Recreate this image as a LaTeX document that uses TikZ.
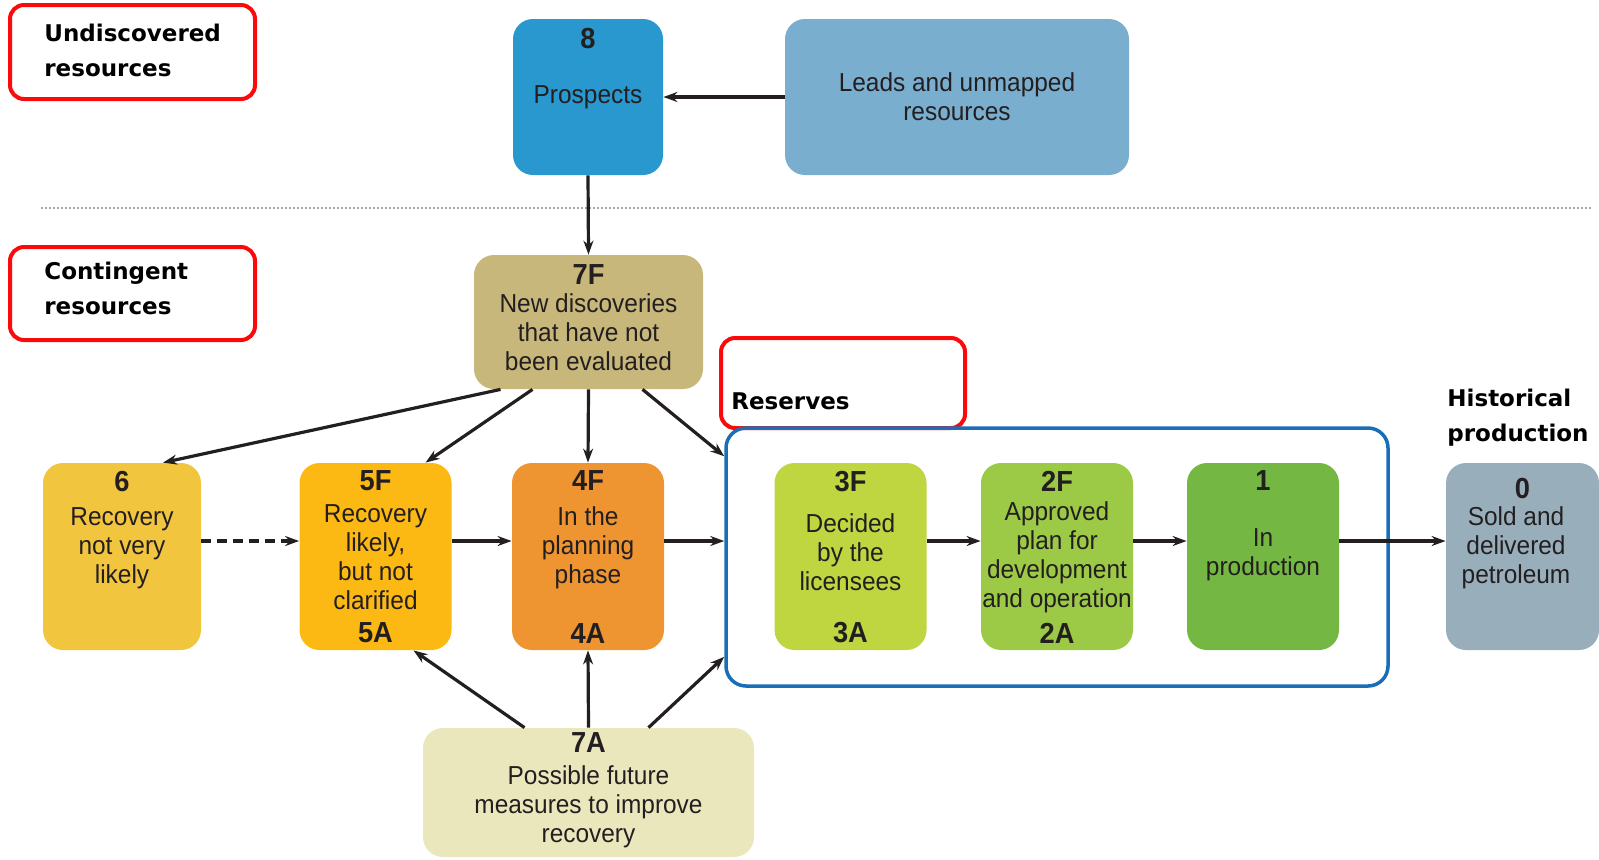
\documentclass[tikz,border=0pt]{standalone}
\usepackage{fontspec}
\setmainfont{Liberation Sans}
\newfontfamily\boxfont[FakeStretch=0.94]{Liberation Sans}
\newfontfamily\headfont{DejaVu Sans}
\usetikzlibrary{positioning}
\usetikzlibrary{arrows.meta}

\definecolor{prospblue}{RGB}{41,152,206}
\definecolor{leadblue}{RGB}{122,174,206}
\definecolor{newdisc}{RGB}{200,183,122}
\definecolor{futmeas}{RGB}{235,231,189}
\definecolor{stagesix}{RGB}{242,197,63}
\definecolor{stagefive}{RGB}{253,185,19}
\definecolor{stagefour}{RGB}{238,148,48}
\definecolor{stagethree}{RGB}{191,214,65}
\definecolor{stagetwo}{RGB}{156,202,70}
\definecolor{stageone}{RGB}{116,184,67}
\definecolor{stagezero}{RGB}{152,175,187}
\definecolor{markred}{RGB}{250,10,10}
\definecolor{resblue}{RGB}{26,109,183}
\definecolor{arrowdark}{RGB}{35,31,32}

\begin{document}
\begin{tikzpicture}[x=0.5pt, y=-0.5pt,
    stage/.style={rounded corners=10pt, minimum width=76pt, minimum height=93.5pt, inner sep=0pt,
      font=\boxfont\fontsize{13}{14.5}\selectfont, align=center, text=arrowdark},
    num/.style={font=\boxfont\bfseries\fontsize{14.5}{14.5}\selectfont, inner sep=0pt, text=arrowdark},
    desc/.style={font=\boxfont\fontsize{13}{14.5}\selectfont, align=center, inner sep=0pt, text=arrowdark},
    head/.style={font=\headfont\bfseries\fontsize{11.5}{17.5}\selectfont, align=left, inner sep=0pt, anchor=west},
    redbox/.style={draw=markred, line width=2pt, rounded corners=7pt, inner sep=0pt},
    flow/.style={-{Stealth[length=7pt,width=5pt]}, line width=1.6pt, draw=arrowdark},
    divider/.style={draw=gray!70, line width=1pt, dash pattern=on 0.8pt off 1.2pt}]
  \useasboundingbox (0,0) rectangle (1599,859);

  % labels in red frames
  \node[redbox, minimum width=122.5pt, minimum height=47pt] (undisc) at (132.5,52) {};
  \node[head] (undisctxt) at (44,50.5) {Undiscovered\\resources};
  \node[redbox, minimum width=122.5pt, minimum height=46.5pt] (conting) at (132.5,293.5) {};
  \node[head] (contingtxt) at (44,288.5) {Contingent\\resources};
  \node[redbox, minimum width=122pt, minimum height=45pt] (reserv) at (843,383) {};
  \node[head] (reservtxt) at (731,401) {Reserves};
  \node[head] (histtxt) at (1447,418) {Historical\\production};

  % divider
  \coordinate (divL) at (41,208);
  \coordinate (divR) at (1591,208);
  \draw[divider] (divL) -- (divR);

  % undiscovered
  \node[stage, fill=prospblue, minimum width=75pt, minimum height=78pt] (p8) at (588,97) {Prospects};
  \node[num, below=4.5pt of p8.north] (p8num) {8};
  \node[stage, fill=leadblue, minimum width=172pt, minimum height=78pt] (leads) at (957,97) {Leads and unmapped\\resources};

  % 7F and 7A
  \node[stage, fill=newdisc, minimum width=114.5pt, minimum height=67pt] (f7) at (588.5,322) {};
  \node[num, below=5pt of f7.north] (f7num) {7F};
  \node[desc] (f7txt) at (588.5,332) {New discoveries\\that have not\\been evaluated};
  \node[stage, fill=futmeas, minimum width=165.5pt, minimum height=64.5pt] (a7) at (588.5,792.5) {};
  \node[num, below=2.5pt of a7.north] (a7num) {7A};
  \node[desc] (a7txt) at (588.5,807) {Possible future\\measures to improve\\recovery};

  % reserves frame
  \node[draw=resblue, line width=1.75pt, rounded corners=10pt, minimum width=331pt, minimum height=129pt, inner sep=0pt] (res) at (1057,557) {};

  % stages
  \node[stage, fill=stagesix, minimum width=79pt] (s6) at (122,556.5) {};
  \node[num, below=4pt of s6.north] (s6num) {6};
  \node[desc] (s6txt) at (122,548) {Recovery\\not very\\likely};

  \node[stage, fill=stagefive] (s5) at (375.5,556.5) {};
  \node[num, below=4pt of s5.north] (s5num) {5F};
  \node[num, above=3.5pt of s5.south] (s5numb) {5A};
  \node[desc] (s5txt) at (375.5,557) {Recovery\\likely,\\but not\\clarified};

  \node[stage, fill=stagefour] (s4) at (588,556.5) {};
  \node[num, below=4pt of s4.north] (s4num) {4F};
  \node[num, above=3.5pt of s4.south] (s4numb) {4A};
  \node[desc] (s4txt) at (588,548) {In the\\planning\\phase};

  \node[stage, fill=stagethree] (s3) at (850.5,556.5) {};
  \node[num, below=4pt of s3.north] (s3num) {3F};
  \node[num, above=3.5pt of s3.south] (s3numb) {3A};
  \node[desc] (s3txt) at (850.5,552) {Decided\\by the\\licensees};

  \node[stage, fill=stagetwo] (s2) at (1057,556.5) {};
  \node[num, below=4pt of s2.north] (s2num) {2F};
  \node[num, above=3.5pt of s2.south] (s2numb) {2A};
  \node[desc] (s2txt) at (1057,557) {Approved\\plan for\\development\\and operation};

  \node[stage, fill=stageone] (s1) at (1263,556.5) {};
  \node[num, below=4pt of s1.north] (s1num) {1};
  \node[desc] (s1txt) at (1263,555) {In\\production};

  \node[stage, fill=stagezero, minimum width=76.5pt] (s0) at (1522.5,556.5) {};
  \node[num, below=7.75pt of s0.north] (s0num) {0};
  \node[desc] (s0txt) at (1516,548) {Sold and\\delivered\\petroleum};

  % connectors
  \draw[flow] (leads.west) -- (p8.east);
  \draw[flow] (p8.south) -- (f7.north);
  \draw[flow] ([xshift=-44pt]f7.south) -- ([xshift=20.5pt]s6.north);
  \draw[flow] ([xshift=-28pt]f7.south) -- ([xshift=25pt]s5.north);
  \draw[flow] (f7.south) -- (s4.north);
  \draw[flow] ([xshift=27pt]f7.south) -- ([yshift=-15pt]res.north west);
  \draw[flow] ([xshift=-32pt]a7.north) -- ([xshift=19pt]s5.south);
  \draw[flow] (a7.north) -- (s4.south);
  \draw[flow] ([xshift=30pt]a7.north) -- ([yshift=15.5pt]res.south west);
  \draw[flow, dash pattern=on 5pt off 3pt] ([yshift=7.75pt]s6.east) -- ([yshift=7.75pt]s5.west);
  \draw[flow] ([yshift=7.75pt]s5.east) -- ([yshift=7.75pt]s4.west);
  \draw[flow] ([yshift=7.75pt]s4.east) -- ([yshift=7.75pt]s4.east -| res.west);
  \draw[flow] ([yshift=7.75pt]s3.east) -- ([yshift=7.75pt]s2.west);
  \draw[flow] ([yshift=7.75pt]s2.east) -- ([yshift=7.75pt]s1.west);
  \draw[flow] ([yshift=7.75pt]s1.east) -- ([yshift=7.75pt]s0.west);
\end{tikzpicture}
\end{document}
